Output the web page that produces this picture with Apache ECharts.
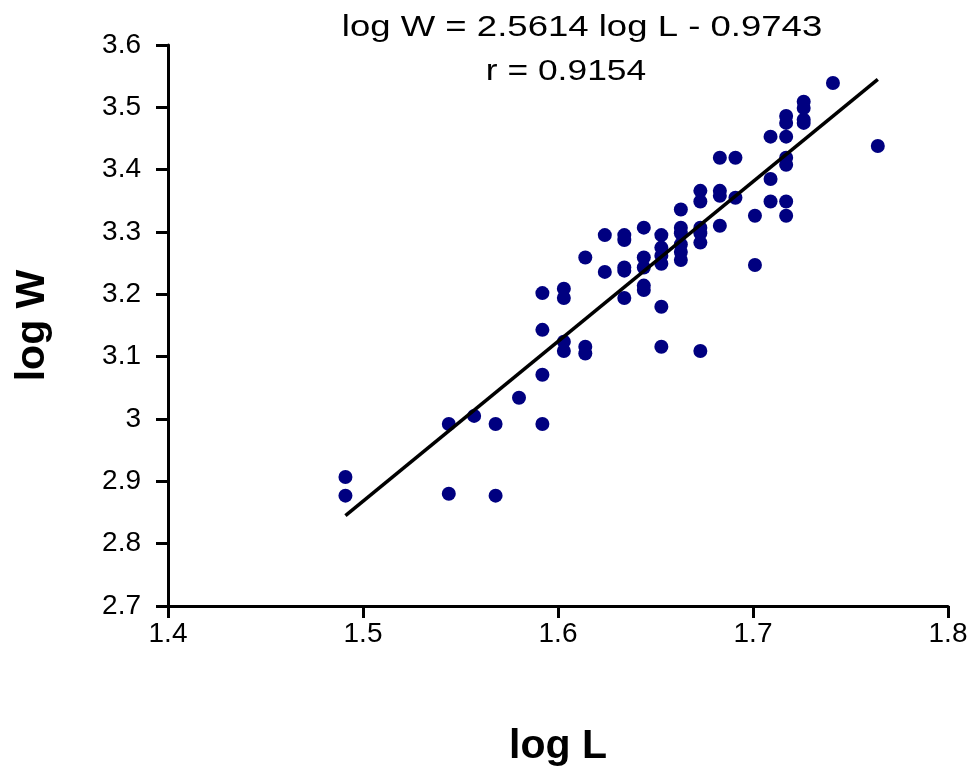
<!DOCTYPE html>
<html>
<head>
<meta charset="utf-8">
<script src="https://cdn.jsdelivr.net/npm/echarts@6/dist/echarts.min.js"></script>
<style>html,body{margin:0;padding:0;background:#fff;}#c{width:979px;height:767px;}</style>
</head>
<body>
<div id="c"></div>
<script>
// log L values
const logL = [
  1.491, 1.491, 1.544, 1.544, 1.557, 1.568, 1.568, 1.580,
  1.592, 1.592, 1.592, 1.592,
  1.603, 1.603, 1.603, 1.603,
  1.614, 1.614, 1.614,
  1.624, 1.624,
  1.634, 1.634, 1.634, 1.634, 1.634,
  1.644, 1.644, 1.644, 1.644, 1.644,
  1.653, 1.653, 1.653, 1.653, 1.653, 1.653,
  1.663, 1.663, 1.663, 1.663, 1.663, 1.663,
  1.673, 1.673, 1.673, 1.673, 1.673, 1.673,
  1.683, 1.683, 1.683, 1.683,
  1.691, 1.691,
  1.701, 1.701,
  1.709, 1.709, 1.709,
  1.717, 1.717, 1.717, 1.717, 1.717, 1.717, 1.717,
  1.726, 1.726, 1.726, 1.726,
  1.741, 1.764
];
// log W values
const logW = [
  2.907, 2.877, 2.992, 2.880, 3.005, 2.992, 2.877, 3.034,
  3.202, 3.143, 3.071, 2.992,
  3.209, 3.194, 3.124, 3.109,
  3.259, 3.116, 3.105,
  3.295, 3.236,
  3.295, 3.287, 3.243, 3.238, 3.194,
  3.307, 3.259, 3.243, 3.214, 3.207,
  3.295, 3.275, 3.262, 3.249, 3.180, 3.116,
  3.336, 3.307, 3.298, 3.280, 3.268, 3.255,
  3.366, 3.349, 3.307, 3.298, 3.283, 3.109,
  3.419, 3.366, 3.358, 3.310,
  3.419, 3.355,
  3.326, 3.247,
  3.453, 3.385, 3.349,
  3.486, 3.475, 3.453, 3.419, 3.408, 3.349, 3.326,
  3.509, 3.499, 3.480, 3.475,
  3.539, 3.438
];
// fitted line end points
const trendL = [1.491, 1.764];
const trendW = [2.845, 3.545];
const xTicks = ['1.4', '1.5', '1.6', '1.7', '1.8'];
const titleLine1 = 'log W = 2.5614 log L - 0.9743';
const titleLine2 = 'r = 0.9154';

const points = logL.map((x, i) => [x, logW[i]]);
const trend = trendL.map((x, i) => [x, trendW[i]]);

const chart = echarts.init(document.getElementById('c'), null, {renderer: 'canvas'});
const font = 'Liberation Sans, Arial, sans-serif';
chart.setOption({
  backgroundColor: '#ffffff',
  animation: false,
  grid: {left: 168, right: 31, top: 45, bottom: 161, containLabel: false, outerBoundsMode: 'none'},
  graphic: [
    {type: 'text', x: 582, y: 28, scaleX: 1.26, style: {text: titleLine1, font: '29px ' + font, fill: '#000', textAlign: 'center', textVerticalAlign: 'middle'}},
    {type: 'text', x: 566, y: 72, scaleX: 1.22, style: {text: titleLine2, font: '29px ' + font, fill: '#000', textAlign: 'center', textVerticalAlign: 'middle'}}
  ],
  xAxis: {
    type: 'value', min: 1.4, max: 1.8, interval: 0.1,
    name: 'log L', nameLocation: 'middle', nameGap: 120,
    nameTextStyle: {fontFamily: font, fontSize: 41, fontWeight: 'bold', color: '#000'},
    axisLine: {show: true, lineStyle: {color: '#000', width: 3}},
    axisTick: {show: true, length: 12, lineStyle: {color: '#000', width: 3}},
    axisLabel: {margin: 14, fontFamily: font, fontSize: 28, color: '#000',
      formatter: (v) => xTicks[Math.round((v - 1.4) * 10)] || ''},
    splitLine: {show: false}
  },
  yAxis: {
    type: 'value', min: 2.7, max: 3.6, interval: 0.1,
    name: 'log W', nameLocation: 'middle', nameGap: 115, nameRotate: 90,
    nameTextStyle: {fontFamily: font, fontSize: 41, fontWeight: 'bold', color: '#000'},
    axisLine: {show: true, lineStyle: {color: '#000', width: 3}},
    axisTick: {show: true, length: 12, lineStyle: {color: '#000', width: 3}},
    axisLabel: {margin: 27, fontFamily: font, fontSize: 28, color: '#000',
      formatter: (v) => { const r = Math.round(v * 10) / 10; return r === 3 ? '3' : r.toFixed(1); }},
    splitLine: {show: false}
  },
  series: [
    {type: 'scatter', data: points, symbol: 'circle', symbolSize: 14,
      itemStyle: {color: '#000080', opacity: 1}, z: 2},
    {type: 'line', data: trend, showSymbol: false, symbol: 'none',
      lineStyle: {color: '#000', width: 3.5}, z: 3}
  ]
});
</script>
</body>
</html>
